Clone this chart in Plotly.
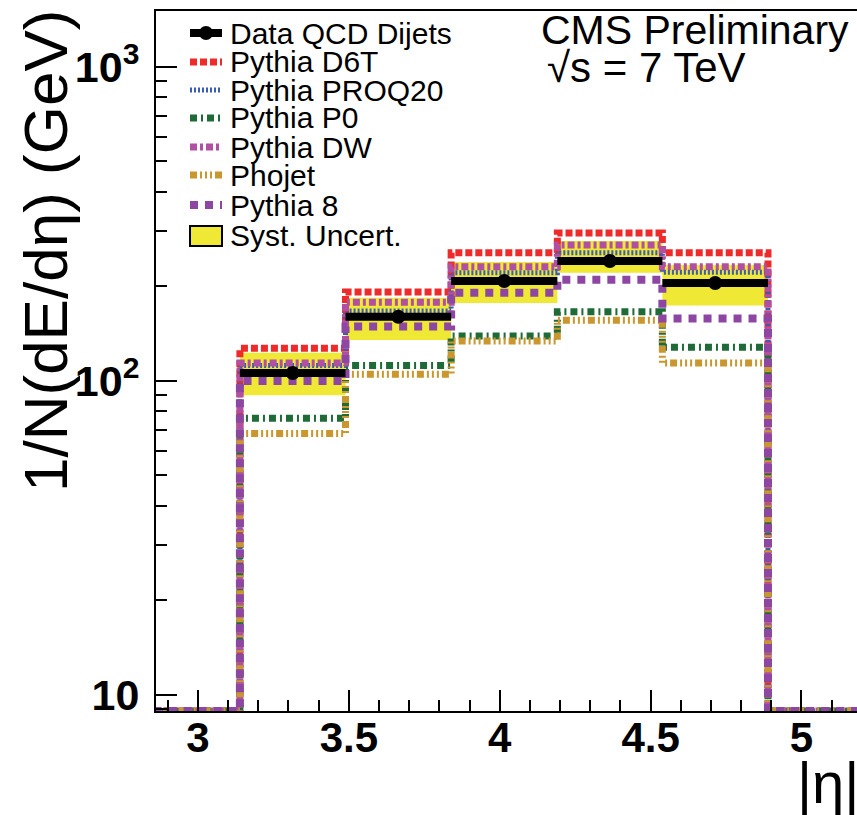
import numpy as np
import plotly.graph_objects as go

# ---------------- data ----------------
bin_edges = [2.853, 3.139, 3.489, 3.839, 4.191, 4.539, 4.889, 5.191]
# values per bin (outer bins are empty -> drawn on the axis floor)
data_vals = [0, 106, 160, 208, 241, 205, 0]
syst_low = [0, 90, 135, 177, 221, 174, 0]
syst_high = [0, 123, 184, 239, 279, 234, 0]

series_names = ["Pythia D6T", "Pythia PROQ20", "Pythia P0", "Pythia DW", "Phojet", "Pythia 8"]
d6t = [0, 127, 192, 256, 296, 256, 0]
proq20 = [0, 112, 167, 221, 256, 222, 0]
p0 = [0, 76, 112, 139, 166, 128, 0]
dw = [0, 114, 178, 231, 271, 231, 0]
phojet = [0, 68, 105, 134, 156, 114, 0]
pythia8 = [0, 100, 149, 191, 210, 158, 0]
series_vals = [d6t, proq20, p0, dw, phojet, pythia8]

x_tickvals = [3, 3.5, 4, 4.5, 5]
x_ticktext = ["3", "3.5", "4", "4.5", "5"]
y_tickvals = [10, 100, 1000]
y_ticktext = ["10", "10<sup>2</sup>", "10<sup>3</sup>"]

# ---------------- style ----------------
colors = ["#EE2A2A", "#3A5CB8", "#1F6B38", "#B14FA2", "#C9972D", "#8D47A3"]
dashes = ["7px,3px", "2px,2px", "7px,4px,2px,4px", "7px,3px,3px,3px",
          "7px,3px,2px,3px,2px,3px,2px,3px", "8px,7px"]
widths = [7, 5, 7, 7, 7, 8]
band_color = "#EFE834"
FONT = "Liberation Sans, Arial, sans-serif"

x_lo, x_hi = 2.861, 5.184
y_lo, y_hi = 0.949, 3.178
floor = 10 ** y_lo

W, H = 857, 815
L, R, T, B = 156, 0, 11, 104
PW, PH = W - L - R, H - T - B


def px(x):
    return (x - L) / PW


def py(y):
    return (H - B - y) / PH


edges = np.array(bin_edges)
centers = 0.5 * (edges[:-1] + edges[1:])
halfw = 0.5 * (edges[1:] - edges[:-1])


def step_xy(vals):
    v = [max(a, floor) for a in vals]
    return list(edges), v + [v[-1]]


fig = go.Figure()

# systematic band (inner bins)
bx, by = [], []
for i in range(1, len(edges) - 2):
    bx += [edges[i], edges[i + 1]]
    by += [syst_high[i], syst_high[i]]
for i in range(len(edges) - 3, 0, -1):
    bx += [edges[i + 1], edges[i]]
    by += [syst_low[i], syst_low[i]]
fig.add_trace(go.Scatter(x=bx, y=by, fill="toself", fillcolor=band_color,
                         line=dict(width=0), mode="lines", hoverinfo="skip",
                         showlegend=False))

for name, vals, c, d, w in zip(series_names, series_vals, colors, dashes, widths):
    sx, sy = step_xy(vals)
    fig.add_trace(go.Scatter(x=sx, y=sy, mode="lines", line_shape="hv",
                             line=dict(color=c, width=w, dash=d), name=name,
                             showlegend=False))

# data
dv = np.array(data_vals[1:-1], dtype=float)
fig.add_trace(go.Scatter(x=centers[1:-1], y=dv, mode="markers",
                         marker=dict(color="black", size=14, symbol="circle"),
                         error_x=dict(type="data", array=halfw[1:-1], color="black",
                                      thickness=8, width=0),
                         name="Data QCD Dijets", showlegend=False, cliponaxis=False))

# ---------------- manual legend ----------------
shapes = []
annotations = []
leg_rows = [33, 62, 90, 118, 147, 175, 205, 236]
sx0, sx1, tx = 190, 222, 228
legend_labels = ["Data QCD Dijets"] + series_names + ["Syst. Uncert."]
for k, lab in enumerate(legend_labels):
    yy = leg_rows[k]
    annotations.append(dict(x=px(tx), y=py(yy), xref="paper", yref="paper", text=lab,
                            showarrow=False, xanchor="left", yanchor="middle",
                            font=dict(family=FONT, size=30, color="black")))
    if k == 0:
        shapes.append(dict(type="line", xref="paper", yref="paper", x0=px(sx0), x1=px(sx1),
                           y0=py(yy), y1=py(yy), line=dict(color="black", width=8)))
        shapes.append(dict(type="circle", xref="paper", yref="paper",
                           x0=px(206 - 7), x1=px(206 + 7), y0=py(yy - 7), y1=py(yy + 7),
                           fillcolor="black", line=dict(color="black", width=0)))
    elif k <= len(series_names):
        j = k - 1
        shapes.append(dict(type="line", xref="paper", yref="paper", x0=px(sx0), x1=px(sx1),
                           y0=py(yy), y1=py(yy),
                           line=dict(color=colors[j], width=widths[j], dash=dashes[j])))
    else:
        shapes.append(dict(type="rect", xref="paper", yref="paper", x0=px(sx0), x1=px(sx1),
                           y0=py(yy - 10), y1=py(yy + 10), fillcolor=band_color,
                           line=dict(color="black", width=2)))

annotations += [
    dict(x=px(851), y=py(30), xref="paper", yref="paper", text="CMS Preliminary",
         showarrow=False, xanchor="right", yanchor="middle",
         font=dict(family=FONT, size=41, color="black")),
    dict(x=px(545), y=py(68), xref="paper", yref="paper", text="√s = 7 TeV",
         showarrow=False, xanchor="left", yanchor="middle",
         font=dict(family=FONT, size=42, color="black")),
    dict(x=px(45), y=py(251), xref="paper", yref="paper", text="1/N(dE/dη) (GeV)",
         showarrow=False, xanchor="center", yanchor="middle", textangle=-90,
         font=dict(family=FONT, size=62, color="black")),
    dict(x=px(861), y=py(817), xref="paper", yref="paper", text="|η|",
         showarrow=False, xanchor="right", yanchor="bottom",
         font=dict(family=FONT, size=58, color="black")),
]

fig.update_layout(
    width=W, height=H,
    margin=dict(l=L, r=R, t=T, b=B, pad=0),
    paper_bgcolor="white", plot_bgcolor="white",
    showlegend=False,
    shapes=shapes, annotations=annotations,
    xaxis=dict(range=[x_lo, x_hi], showgrid=False, zeroline=False,
               showline=True, linecolor="black", linewidth=2, mirror=True,
               ticks="inside", ticklen=21, tickwidth=2, tickcolor="black",
               tickvals=x_tickvals, ticktext=x_ticktext, ticklabelstandoff=-11,
               tickfont=dict(family=FONT, size=42, color="black", weight="bold"),
               minor=dict(ticks="inside", ticklen=11, tickwidth=2, tickcolor="black",
                          dtick=0.1, tick0=0, showgrid=False)),
    yaxis=dict(type="log", range=[y_lo, y_hi], showgrid=False, zeroline=False,
               showline=True, linecolor="black", linewidth=2, mirror=False,
               ticks="inside", ticklen=21, tickwidth=2, tickcolor="black",
               tickvals=y_tickvals, ticktext=y_ticktext, ticklabelstandoff=6,
               tickfont=dict(family=FONT, size=43, color="black", weight="bold"),
               minor=dict(ticks="inside", ticklen=11, tickwidth=2, tickcolor="black",
                          dtick="D1", showgrid=False)),
)

fig.write_html("out.html")
